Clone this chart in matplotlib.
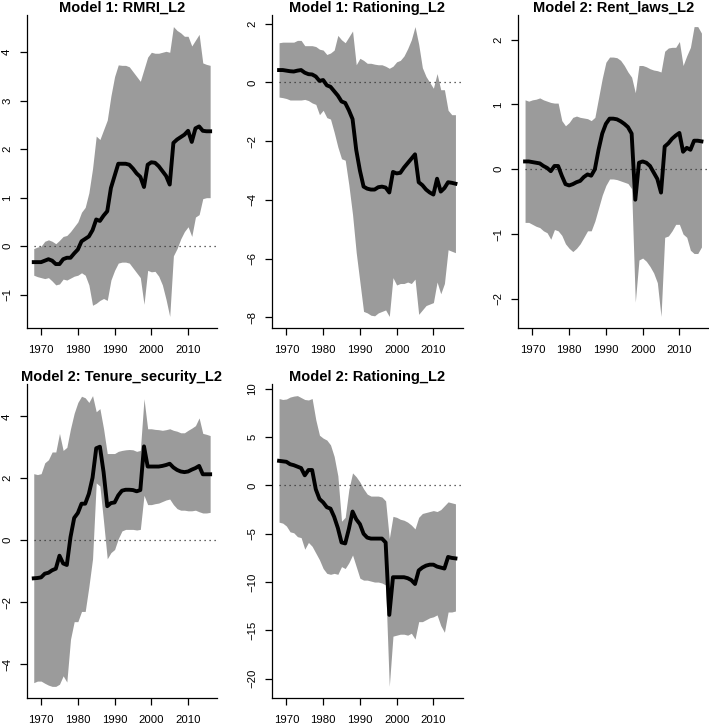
import numpy as np
import matplotlib
matplotlib.use("Agg")
import matplotlib.pyplot as plt

plt.rcParams['font.family'] = ['Liberation Sans', 'DejaVu Sans']

years = list(range(1968, 2017))

titles = ["Model 1: RMRI_L2", "Model 1: Rationing_L2", "Model 2: Rent_laws_L2",
          "Model 2: Tenure_security_L2", "Model 2: Rationing_L2"]

# ---- Model 1: RMRI_L2
rmri_mean = [-0.33, -0.33, -0.33, -0.30, -0.27, -0.30, -0.37, -0.37, -0.27, -0.24,
             -0.24, -0.15, -0.07, 0.10, 0.15, 0.20, 0.33, 0.55, 0.52, 0.63,
             0.72, 1.20, 1.45, 1.70, 1.70, 1.70, 1.68, 1.60, 1.50, 1.43,
             1.22, 1.68, 1.73, 1.72, 1.65, 1.55, 1.45, 1.27, 2.13, 2.20,
             2.25, 2.30, 2.38, 2.15, 2.43, 2.47, 2.38, 2.37, 2.37]
rmri_upper = [-0.05, -0.02, 0.00, 0.10, 0.13, 0.10, 0.05, 0.12, 0.20, 0.22,
              0.30, 0.40, 0.50, 0.70, 0.80, 1.10, 1.60, 2.27, 2.20, 2.40,
              2.60, 3.10, 3.50, 3.74, 3.73, 3.73, 3.70, 3.60, 3.50, 3.40,
              3.65, 3.90, 4.00, 3.98, 3.98, 4.00, 4.02, 4.00, 4.53, 4.45,
              4.40, 4.33, 4.33, 4.13, 4.25, 4.37, 3.78, 3.75, 3.73]
rmri_lower = [-0.60, -0.63, -0.65, -0.67, -0.65, -0.72, -0.80, -0.78, -0.68, -0.70,
              -0.66, -0.62, -0.60, -0.55, -0.60, -0.80, -1.22, -1.18, -1.12, -1.08,
              -1.12, -0.70, -0.50, -0.35, -0.33, -0.33, -0.35, -0.45, -0.55, -0.65,
              -1.20, -0.50, -0.53, -0.52, -0.62, -0.80, -1.10, -1.45, -0.20, -0.05,
              0.15, 0.30, 0.40, 0.20, 0.60, 0.65, 0.98, 1.00, 1.00]

# ---- Model 1: Rationing_L2
rat1_mean = [0.42, 0.42, 0.40, 0.38, 0.37, 0.40, 0.42, 0.33, 0.28, 0.27,
             0.20, 0.05, 0.08, -0.10, -0.15, -0.30, -0.45, -0.65, -0.70, -0.95,
             -1.25, -2.30, -3.00, -3.55, -3.62, -3.65, -3.65, -3.57, -3.55, -3.58,
             -3.75, -3.05, -3.10, -3.08, -2.90, -2.75, -2.60, -2.45, -3.40, -3.50,
             -3.65, -3.75, -3.82, -3.28, -3.72, -3.60, -3.40, -3.42, -3.45]
rat1_upper = [1.35, 1.37, 1.37, 1.37, 1.37, 1.43, 1.43, 1.25, 1.25, 1.25,
              1.22, 1.13, 1.10, 0.95, 1.00, 1.10, 1.60, 1.45, 1.35, 1.55,
              1.75, 0.60, 0.82, 0.75, 0.65, 0.65, 0.62, 0.60, 0.60, 0.55,
              0.48, 0.55, 0.70, 0.75, 0.90, 1.15, 1.45, 1.90, 1.30, 0.50,
              0.20, 0.00, -0.20, 0.30, -0.25, -0.25, -0.95, -1.10, -1.10]
rat1_lower = [-0.50, -0.52, -0.55, -0.60, -0.60, -0.60, -0.60, -0.58, -0.62, -0.70,
              -0.75, -1.10, -0.95, -1.20, -1.25, -1.70, -2.20, -2.60, -2.65, -3.50,
              -4.50, -5.80, -6.80, -7.80, -7.85, -7.93, -7.95, -7.85, -7.80, -7.75,
              -7.97, -6.65, -6.90, -6.85, -6.85, -6.80, -6.85, -6.70, -7.90, -7.75,
              -7.60, -7.55, -7.50, -6.80, -7.20, -6.85, -5.70, -5.75, -5.80]

# ---- Model 2: Rent_laws_L2
rent_mean = [0.12, 0.12, 0.11, 0.10, 0.09, 0.05, 0.02, -0.03, 0.05, 0.05,
             -0.10, -0.23, -0.25, -0.23, -0.20, -0.18, -0.12, -0.08, -0.10, 0.00,
             0.30, 0.55, 0.70, 0.78, 0.78, 0.77, 0.74, 0.70, 0.65, 0.55,
             -0.47, 0.10, 0.12, 0.10, 0.05, -0.05, -0.15, -0.36, 0.35, 0.40,
             0.47, 0.52, 0.56, 0.27, 0.33, 0.30, 0.44, 0.44, 0.43]
rent_upper = [1.07, 1.05, 1.07, 1.08, 1.10, 1.07, 1.05, 1.03, 1.02, 1.02,
              0.75, 0.67, 0.72, 0.80, 0.82, 0.80, 0.79, 0.78, 0.75, 0.80,
              1.10, 1.40, 1.65, 1.73, 1.73, 1.72, 1.68, 1.60, 1.50, 1.42,
              1.18, 1.60, 1.60, 1.58, 1.55, 1.53, 1.52, 1.50, 1.82, 1.87,
              1.88, 1.88, 1.97, 1.60, 1.75, 1.88, 2.20, 2.20, 2.10]
rent_lower = [-0.82, -0.82, -0.85, -0.88, -0.90, -0.95, -0.98, -1.08, -0.93, -0.95,
              -1.02, -1.15, -1.22, -1.27, -1.22, -1.15, -1.05, -0.95, -0.95, -0.80,
              -0.60, -0.40, -0.25, -0.15, -0.15, -0.16, -0.18, -0.20, -0.22, -0.30,
              -2.05, -1.40, -1.37, -1.42, -1.50, -1.60, -1.75, -2.27, -1.05, -1.03,
              -0.95, -0.85, -0.85, -1.00, -1.05, -1.25, -1.30, -1.30, -1.20]

# ---- Model 2: Tenure_security_L2
ten_mean = [-1.23, -1.22, -1.20, -1.08, -1.05, -0.97, -0.92, -0.50, -0.75, -0.80,
            0.10, 0.72, 0.88, 1.18, 1.18, 1.50, 2.02, 2.97, 3.02, 2.20,
            1.10, 1.20, 1.22, 1.45, 1.60, 1.63, 1.63, 1.62, 1.58, 1.62,
            3.03, 2.38, 2.38, 2.38, 2.38, 2.40, 2.43, 2.47, 2.35, 2.27,
            2.22, 2.20, 2.22, 2.28, 2.33, 2.40, 2.13, 2.13, 2.13]
ten_upper = [2.15, 2.12, 2.15, 2.50, 2.60, 2.85, 2.85, 3.45, 2.90, 3.00,
             3.60, 4.10, 4.45, 4.65, 4.60, 4.45, 4.67, 4.15, 4.25, 3.60,
             2.80, 2.80, 2.80, 2.87, 2.90, 2.92, 2.93, 2.92, 2.87, 2.90,
             4.57, 3.60, 3.60, 3.58, 3.57, 3.55, 3.57, 3.60, 3.55, 3.52,
             3.47, 3.47, 3.55, 3.62, 3.70, 3.95, 3.45, 3.42, 3.38]
ten_lower = [-4.60, -4.55, -4.55, -4.62, -4.68, -4.72, -4.72, -4.65, -4.38, -4.58,
             -3.20, -2.63, -2.63, -2.30, -2.30, -1.50, -0.60, 1.85, 1.75, 0.60,
             -0.60, -0.40, -0.30, 0.05, 0.30, 0.35, 0.35, 0.35, 0.33, 0.35,
             1.45, 1.15, 1.15, 1.18, 1.20, 1.25, 1.30, 1.33, 1.15, 1.02,
             0.97, 0.97, 0.95, 0.95, 0.97, 0.92, 0.88, 0.88, 0.90]

# ---- Model 2: Rationing_L2
rat2_mean = [2.55, 2.50, 2.45, 2.20, 2.10, 1.95, 1.80, 1.05, 1.60, 1.60,
             -0.40, -1.40, -1.75, -2.25, -2.40, -3.25, -4.40, -5.90, -6.00, -4.50,
             -2.70, -3.50, -4.00, -5.00, -5.40, -5.50, -5.50, -5.50, -5.50, -5.90,
             -13.40, -9.50, -9.50, -9.50, -9.50, -9.60, -9.80, -10.20, -8.80, -8.50,
             -8.30, -8.20, -8.20, -8.40, -8.50, -8.60, -7.40, -7.50, -7.55]
rat2_upper = [9.00, 8.90, 8.95, 9.15, 9.25, 9.30, 9.10, 8.90, 8.85, 9.00,
              6.80, 5.20, 4.90, 4.70, 4.20, 3.00, 1.00, -3.70, -3.30, -0.40,
              1.30, 0.90, 0.35, -0.35, -0.90, -1.10, -1.10, -1.10, -1.20, -1.60,
              -5.50, -3.20, -3.30, -3.50, -3.60, -3.80, -4.10, -4.50, -3.30, -2.90,
              -2.80, -2.70, -2.60, -2.70, -2.50, -2.10, -1.70, -1.80, -1.90]
rat2_lower = [-3.80, -3.90, -4.20, -4.80, -4.90, -5.30, -5.40, -6.60, -5.90, -6.30,
              -7.00, -7.70, -8.60, -9.10, -9.20, -9.10, -9.20, -8.40, -8.60, -8.00,
              -7.20, -8.40, -9.60, -9.80, -9.80, -9.90, -10.00, -10.00, -10.10, -10.30,
              -20.80, -15.60, -15.50, -15.40, -15.40, -15.50, -15.30, -15.90, -14.10, -14.10,
              -13.90, -13.70, -13.60, -13.40, -14.50, -15.20, -13.10, -13.10, -13.00]

yticks = [list(range(-1, 5)), list(range(-8, 3, 2)), list(range(-2, 3)),
          list(range(-4, 5, 2)), list(range(-20, 11, 5))]
xticks = [1970, 1980, 1990, 2000, 2010]

series = [(rmri_mean, rmri_lower, rmri_upper),
          (rat1_mean, rat1_lower, rat1_upper),
          (rent_mean, rent_lower, rent_upper),
          (ten_mean, ten_lower, ten_upper),
          (rat2_mean, rat2_lower, rat2_upper)]

W, H = 709, 726
fig = plt.figure(figsize=(W / 100, H / 100), dpi=100)

col_left = [26.7, 272, 518]
pw = 190.5
rows = [(15, 328), (384, 698)]

for i, (title, (m, lo, up), yt) in enumerate(zip(titles, series, yticks)):
    r, c = divmod(i, 3)
    top, bot = rows[r]
    ax = fig.add_axes([col_left[c] / W, 1 - bot / H, pw / W, (bot - top) / H])
    x = np.array(years)
    ax.fill_between(x, lo, up, color='#9b9b9b', linewidth=0, zorder=1)
    xr = x.max() - x.min()
    x0, x1 = x.min() - 0.04 * xr, x.max() + 0.04 * xr
    ymin, ymax = min(lo), max(up)
    yr = ymax - ymin
    ax.hlines(0, x.min(), x1, colors='#333333', linestyles=(0, (1, 3)), linewidth=0.9, zorder=2)
    ax.plot(x, m, color='black', linewidth=2.8, zorder=3, solid_joinstyle='round')
    ax.set_xlim(x0, x1)
    ax.set_ylim(ymin - 0.04 * yr, ymax + 0.04 * yr)
    ax.set_xticks(xticks)
    ax.set_yticks(yt)
    for s in ['top', 'right']:
        ax.spines[s].set_visible(False)
    for s in ['left', 'bottom']:
        ax.spines[s].set_linewidth(0.9)
    ax.tick_params(axis='both', direction='out', length=5, width=0.9, labelsize=8.2)
    ax.tick_params(axis='x', pad=7.5)
    ax.tick_params(axis='y', pad=5.5)
    for lab in ax.get_yticklabels():
        lab.set_rotation(90)
        lab.set_va('center')
    ax.set_title(title, fontsize=10.5, fontweight='bold', pad=2)

fig.savefig('out.png', dpi=100)
